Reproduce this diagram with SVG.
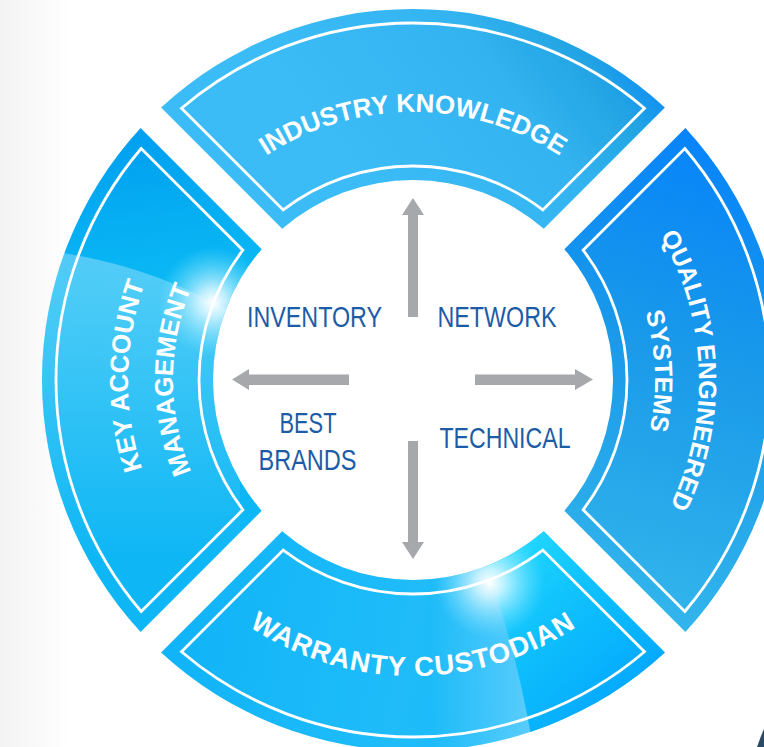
<svg xmlns="http://www.w3.org/2000/svg" width="764" height="747" viewBox="0 0 764 747">
<style>
.seg-label{font-family:"Liberation Sans",Arial,sans-serif;font-weight:bold;font-size:26px;fill:#ffffff}
.center-label{font-family:"Liberation Sans Narrow","Liberation Sans",Arial,sans-serif;font-size:30px;fill:#1c5ca6}
.inline{fill:none;stroke:#ffffff;stroke-width:2.8}
.arrow{fill:#a7a8ab}
</style>
<defs>
<linearGradient id="bgL" x1="0" y1="0" x2="70" y2="0" gradientUnits="userSpaceOnUse">
<stop offset="0" stop-color="#f3f3f3"/><stop offset="1" stop-color="#ffffff"/>
</linearGradient>
<linearGradient id="gTop" x1="413" y1="250" x2="665" y2="60" gradientUnits="userSpaceOnUse">
<stop offset="0" stop-color="#3bbcf7"/><stop offset="0.55" stop-color="#33b3ef"/><stop offset="0.8" stop-color="#22a4e4"/><stop offset="1" stop-color="#0683fa"/>
</linearGradient>
<linearGradient id="gRight" x1="700" y1="130" x2="560" y2="600" gradientUnits="userSpaceOnUse">
<stop offset="0" stop-color="#0683fa"/><stop offset="0.45" stop-color="#1a9ae9"/><stop offset="1" stop-color="#33b6ec"/>
</linearGradient>
<linearGradient id="gBottom" x1="160" y1="560" x2="670" y2="650" gradientUnits="userSpaceOnUse">
<stop offset="0" stop-color="#0fb3f8"/><stop offset="0.5" stop-color="#1fbcf9"/><stop offset="1" stop-color="#12b6fb"/>
</linearGradient>
<linearGradient id="gBotRight" x1="520" y1="540" x2="660" y2="700" gradientUnits="userSpaceOnUse">
<stop offset="0" stop-color="#22dcff" stop-opacity="0.9"/><stop offset="0.5" stop-color="#05bdfd" stop-opacity="0.6"/><stop offset="1" stop-color="#009cff" stop-opacity="0.9"/>
</linearGradient>
<linearGradient id="gLeft" x1="140" y1="130" x2="200" y2="630" gradientUnits="userSpaceOnUse">
<stop offset="0" stop-color="#009ff0"/><stop offset="0.3" stop-color="#0ab8f4"/><stop offset="1" stop-color="#0fb6f5"/>
</linearGradient>
<linearGradient id="gLeftSheen" x1="0" y1="260" x2="0" y2="560" gradientUnits="userSpaceOnUse">
<stop offset="0" stop-color="#ffffff" stop-opacity="0.3"/><stop offset="1" stop-color="#ffffff" stop-opacity="0"/>
</linearGradient>
<linearGradient id="gBotSheen" x1="430" y1="0" x2="530" y2="0" gradientUnits="userSpaceOnUse">
<stop offset="0" stop-color="#ffffff" stop-opacity="0"/><stop offset="1" stop-color="#ffffff" stop-opacity="0.28"/>
</linearGradient>
<radialGradient id="glow" cx="0.5" cy="0.5" r="0.5">
<stop offset="0" stop-color="#ffffff" stop-opacity="1"/><stop offset="0.25" stop-color="#e8fbff" stop-opacity="0.8"/><stop offset="1" stop-color="#7fe6ff" stop-opacity="0"/>
</radialGradient>
<clipPath id="clipLeft"><path d="M140.61,631.88 A371,371 0 0 1 140.61,128.12 L261.70,249.20 A200,200 0 0 0 261.70,510.80 Z"/></clipPath>
<clipPath id="clipBottom"><path d="M664.88,652.39 A371,371 0 0 1 161.12,652.39 L282.20,531.30 A200,200 0 0 0 543.80,531.30 Z"/></clipPath>
<path id="pTop" d="M180.91,246 A268,268 0 0 1 645.09,246"/>
<path id="pBottom" d="M156.66,528 A296,296 0 0 0 669.34,528"/>
<path id="pLeft1" d="M270.5,626.82 A285,285 0 0 1 270.5,133.18"/>
<path id="pLeft2" d="M293,587.85 A240,240 0 0 1 293,172.15"/>
<path id="pRight1" d="M556.5,131.45 A288,288 0 0 1 556.5,628.55"/>
<path id="pRight2" d="M534,170.42 A242,242 0 0 1 534,589.58"/>
</defs>
<rect x="0" y="0" width="764" height="747" fill="#ffffff"/>
<rect x="0" y="0" width="70" height="747" fill="url(#bgL)"/>

<g id="seg-top">
<path d="M161.12,107.61 A371,371 0 0 1 664.88,107.61 L543.80,228.70 A200,200 0 0 0 282.20,228.70 Z" fill="url(#gTop)"/>
<path class="inline" d="M181.52,108.21 A357,357 0 0 1 644.48,108.21 L542.82,209.88 A214,214 0 0 0 283.18,209.88 Z"/>
<text class="seg-label"><textPath href="#pTop" startOffset="50%" text-anchor="middle">INDUSTRY KNOWLEDGE</textPath></text>
</g>

<g id="seg-right">
<path d="M685.39,128.12 A371,371 0 0 1 685.39,631.88 L564.30,510.80 A200,200 0 0 0 564.30,249.20 Z" fill="url(#gRight)"/>
<path class="inline" d="M684.79,148.52 A357,357 0 0 1 684.79,611.48 L583.13,509.82 A214,214 0 0 0 583.13,250.18 Z"/>
<text class="seg-label" style="font-size:25px"><textPath href="#pRight1" startOffset="289.6" text-anchor="middle">QUALITY ENGINEERED</textPath></text>
<text class="seg-label" style="font-size:25px"><textPath href="#pRight2" startOffset="244.4" text-anchor="middle">SYSTEMS</textPath></text>
</g>

<g id="seg-bottom">
<path d="M664.88,652.39 A371,371 0 0 1 161.12,652.39 L282.20,531.30 A200,200 0 0 0 543.80,531.30 Z" fill="url(#gBottom)"/>
<g clip-path="url(#clipBottom)">
<path d="M483,560 Q515,640 533,747 L700,747 L700,520 L470,520 Z" fill="url(#gBotRight)"/>
<path d="M420,520 L483,560 Q515,640 533,747 L420,747 Z" fill="url(#gBotSheen)"/>
<circle cx="490" cy="583" r="55" fill="url(#glow)"/>
</g>
<path class="inline" d="M644.48,651.79 A357,357 0 0 1 181.52,651.79 L283.18,550.13 A214,214 0 0 0 542.82,550.13 Z"/>
<text class="seg-label" style="font-size:27.5px;letter-spacing:1px"><textPath href="#pBottom" startOffset="50%" text-anchor="middle">WARRANTY CUSTODIAN</textPath></text>
</g>

<g id="seg-left">
<path d="M140.61,631.88 A371,371 0 0 1 140.61,128.12 L261.70,249.20 A200,200 0 0 0 261.70,510.80 Z" fill="url(#gLeft)"/>
<g clip-path="url(#clipLeft)">
<path d="M40,250 Q150,262 240,318 L240,660 L40,660 Z" fill="url(#gLeftSheen)"/>
<circle cx="213" cy="302" r="55" fill="url(#glow)"/>
</g>
<path class="inline" d="M141.21,611.48 A357,357 0 0 1 141.21,148.52 L242.88,250.18 A214,214 0 0 0 242.88,509.82 Z"/>
<text class="seg-label"><textPath href="#pLeft1" startOffset="302.4" text-anchor="middle">KEY ACCOUNT</textPath></text>
<text class="seg-label"><textPath href="#pLeft2" startOffset="50%" text-anchor="middle">MANAGEMENT</textPath></text>
</g>

<g id="connectors">
<path class="arrow" d="M408,317 L408,215 L402,215 L413,198 L424,215 L418,215 L418,317 Z"/>
<path class="arrow" d="M408,441 L408,542 L402,542 L413,559 L424,542 L418,542 L418,441 Z"/>
<path class="arrow" d="M349,374.5 L249,374.5 L249,369 L232,379.5 L249,390 L249,385 L349,385 Z"/>
<path class="arrow" d="M475,374.5 L575,374.5 L575,369 L593,379.5 L575,390 L575,385 L475,385 Z"/>
</g>

<g id="center-labels">
<text id="lbl-inventory" class="center-label" x="247" y="327" textLength="135" lengthAdjust="spacingAndGlyphs">INVENTORY</text>
<text id="lbl-network" class="center-label" x="437.5" y="327" textLength="119" lengthAdjust="spacingAndGlyphs">NETWORK</text>
<text id="lbl-best" class="center-label" x="279.5" y="433" textLength="57" lengthAdjust="spacingAndGlyphs">BEST</text>
<text id="lbl-brands" class="center-label" x="258.5" y="470" textLength="98" lengthAdjust="spacingAndGlyphs">BRANDS</text>
<text id="lbl-technical" class="center-label" x="439.5" y="448" textLength="131" lengthAdjust="spacingAndGlyphs">TECHNICAL</text>
</g>

<path d="M757,747 L761,736 L764,729 L764,747 Z" fill="#2b4a66"/>
</svg>
